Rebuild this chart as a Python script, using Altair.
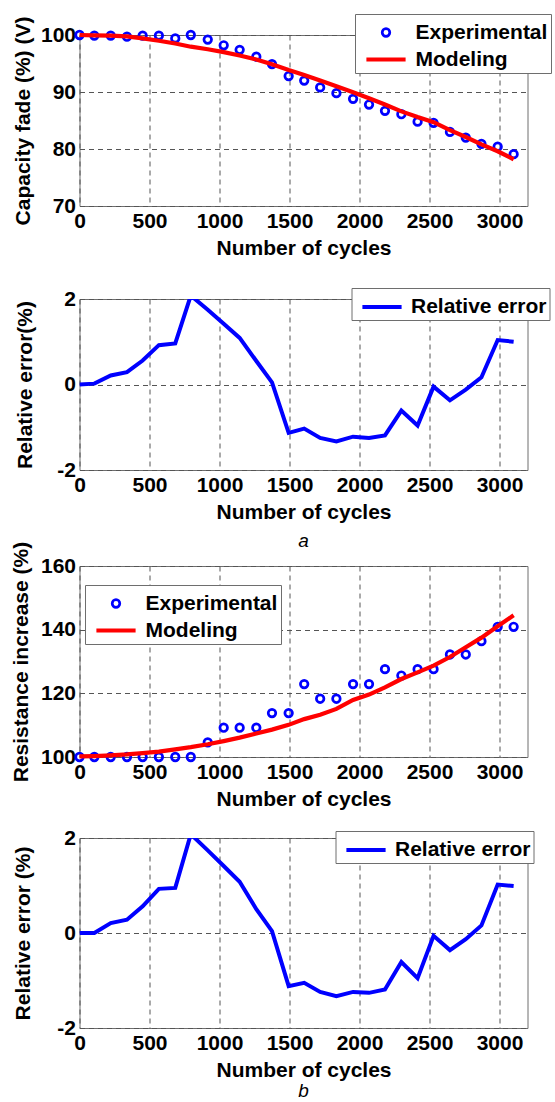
import altair as alt
import pandas as pd

FONT = "Liberation Sans"

# ---------------- data ----------------
cycles = [0, 106, 223, 339, 451, 567, 684, 795, 916, 1030, 1144, 1263, 1375, 1494,
          1605, 1719, 1835, 1954, 2068, 2182, 2299, 2415, 2529, 2646, 2759, 2871, 2987, 3101]

cap_exp = [100, 99.9, 99.9, 99.7, 99.9, 99.9, 99.4, 100, 99.2, 98.2, 97.4, 96.2, 94.9, 92.8,
           92.0, 90.8, 89.8, 88.8, 87.8, 86.7, 86.1, 84.8, 84.6, 83.0, 82.0, 80.9, 80.4, 79.1]
cap_model = [100, 99.95, 99.9, 99.75, 99.4, 99.0, 98.5, 97.95, 97.5, 97.0, 96.4, 95.7, 94.85, 93.85,
             93.0, 92.0, 91.0, 89.95, 88.9, 87.8, 86.6, 85.6, 84.7, 83.3, 82.1, 80.8, 79.6, 78.2]
cap_err = [0, 0.02, 0.21, 0.29, 0.56, 0.92, 0.96, 2.08, 1.75, 1.42, 1.09, 0.55, 0.05, -1.13,
           -1.03, -1.25, -1.33, -1.22, -1.25, -1.19, -0.61, -0.96, -0.05, -0.37, -0.12, 0.17, 1.04, 1.0]

res_exp = [100, 100, 100, 100, 100, 100, 100, 100, 104.6, 109.2, 109.2, 109.2, 113.8, 113.8,
           122.9, 118.3, 118.3, 122.9, 122.9, 127.6, 125.6, 127.6, 127.6, 132.2, 132.2, 136.4, 140.9, 140.9]
res_model = [100.2, 100.3, 100.5, 100.8, 101.2, 101.7, 102.4, 103.1, 104.0, 105.0, 106.1, 107.4, 108.6, 110.1,
             111.9, 113.3, 115.1, 117.9, 119.6, 121.9, 124.5, 126.6, 128.7, 131.4, 134.5, 137.5, 141.1, 144.5]
res_err = [0, 0.0, 0.21, 0.28, 0.56, 0.93, 0.95, 2.08, 1.74, 1.41, 1.08, 0.5, 0.04, -1.12,
           -1.05, -1.24, -1.33, -1.24, -1.26, -1.19, -0.61, -0.95, -0.06, -0.36, -0.13, 0.16, 1.02, 0.99]

x_ticks = [0, 500, 1000, 1500, 2000, 2500, 3000]
series_pair = ["Experimental", "Modeling"]
series_err = ["Relative error"]

CIRCLE = "M -0.27,0 A 0.27,0.27 0 1,0 0.27,0 A 0.27,0.27 0 1,0 -0.27,0 Z"
LINE = "M -1.4,0 L 1.4,0"

W = 448


def x_enc():
    return alt.X("cycle:Q", scale=alt.Scale(domain=[0, 3200], nice=False, zero=False),
                 axis=alt.Axis(values=x_ticks, format="d", title="Number of cycles"))


def y_enc(domain, ticks, title, tpad):
    return alt.Y("value:Q", scale=alt.Scale(domain=domain, nice=False, zero=False),
                 axis=alt.Axis(values=ticks, labelExpr="'' + datum.value", title=title, titlePadding=tpad))


def leg(lx, ly, **kw):
    return alt.Legend(title=None, orient="none", legendX=lx, legendY=ly, **kw)


def pair_panel(exp, model, domain, ticks, title, tpad, lx, ly, h):
    de = pd.DataFrame({"cycle": cycles, "value": exp, "series": "Experimental"})
    dm = pd.DataFrame({"cycle": cycles, "value": model, "series": "Modeling"})
    lg = leg(lx, ly)
    color = alt.Color("series:N", scale=alt.Scale(domain=series_pair, range=["#0000ff", "#ff0000"]), legend=lg)
    shape = alt.Shape("series:N", scale=alt.Scale(domain=series_pair, range=[CIRCLE, LINE]), legend=lg)
    sw = alt.StrokeWidth("series:N", scale=alt.Scale(domain=series_pair, range=[2.7, 4.2]), legend=lg)
    pts = alt.Chart(de).mark_point(filled=False, size=784, opacity=1).encode(
        x=x_enc(), y=y_enc(domain, ticks, title, tpad), color=color, shape=shape, strokeWidth=sw)
    line = alt.Chart(dm).mark_line().encode(
        x=x_enc(), y=y_enc(domain, ticks, title, tpad), color=color, strokeWidth=sw)
    return alt.layer(pts, line).properties(width=W, height=h)


def err_panel(err, title, tpad, lx, ly, h, caption, cap_off):
    d = pd.DataFrame({"cycle": cycles, "value": err, "series": "Relative error"})
    color = alt.Color("series:N", scale=alt.Scale(domain=series_err, range=["#0000ff"]),
                      legend=leg(lx, ly, symbolType=LINE, symbolStrokeWidth=4))
    line = alt.Chart(d).mark_line(clip=True, strokeWidth=4).encode(
        x=x_enc(), y=y_enc([-2, 2], [-2, 0, 2], title, tpad), color=color)
    return line.properties(
        width=W, height=h,
        title=alt.TitleParams(caption, orient="bottom", anchor="middle", fontStyle="italic",
                              fontWeight="normal", fontSize=19, font=FONT, color="black", offset=cap_off))


def spacer(h):
    return alt.Chart(pd.DataFrame({"v": [0]})).mark_point(opacity=0).encode(
        x=alt.X("v:Q", axis=None), y=alt.Y("v:Q", axis=None)
    ).properties(width=W, height=h, view=alt.ViewBackground(strokeOpacity=0))


p1 = pair_panel(cap_exp, cap_model, [70, 100], [70, 80, 90, 100], "Capacity fade (%) (V)", 7, 275.5, -21, 171)
p2 = err_panel(cap_err, "Relative error(%)", 21, 272, -11, 171, "a", 10)
p3 = pair_panel(res_exp, res_model, [100, 160], [100, 120, 140, 160], "Resistance increase (%)", 9, 5.5, 19, 191)
p4 = err_panel(res_err, "Relative error (%)", 23, 256, -7, 190, "b", 2)

chart = alt.vconcat(
    p1, spacer(93), p2, spacer(96), p3, spacer(81), p4, spacing=0, bounds="flush"
).resolve_scale(
    color="independent", shape="independent", strokeWidth="independent"
).resolve_legend(
    color="independent", shape="independent", strokeWidth="independent"
).properties(
    padding={"left": 9.5, "top": 13, "right": 0, "bottom": 0}, background="white"
).configure_view(
    stroke="#6e6e6e", strokeWidth=1
).configure_axis(
    labelFont=FONT, labelFontSize=21, labelFontWeight="bold", labelColor="black",
    titleFont=FONT, titleFontSize=21, titleFontWeight="bold", titleColor="black",
    domain=False, ticks=False, tickSize=0, grid=True, gridColor="#555555", gridDash=[5, 4],
    gridWidth=1, gridOpacity=1, labelFlush=False, labelOverlap=False
).configure_axisX(
    labelPadding=4, titlePadding=6
).configure_axisY(
    labelPadding=4
).configure_legend(
    labelFont=FONT, labelFontSize=21, labelFontWeight="bold", labelColor="black",
    strokeColor="#6e6e6e", fillColor="white", padding=3, rowPadding=0,
    symbolSize=784, symbolOffset=11.5, labelOffset=13, labelLimit=0
)

chart.save("out.html", embed_options={"renderer": "svg", "actions": False})
